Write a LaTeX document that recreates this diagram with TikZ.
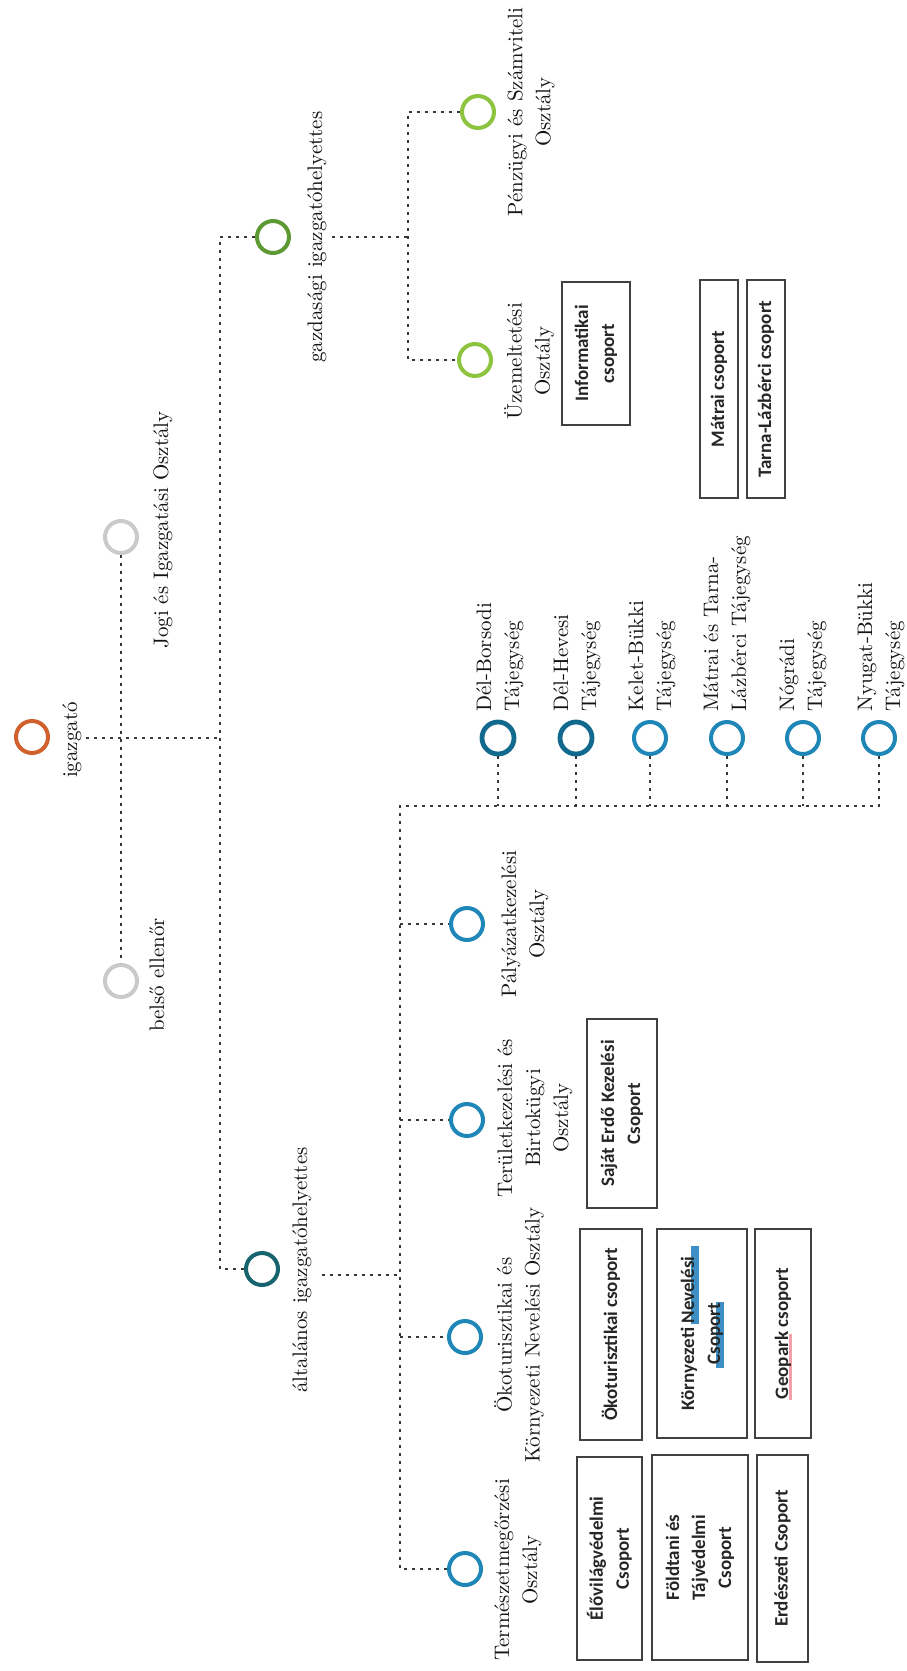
\documentclass[tikz,border=0pt]{standalone}
\usepackage{fontspec}
\newfontfamily\grpfont{Carlito}
\usepackage{tikz}
\definecolor{chiefred}{HTML}{D2602C}
\definecolor{staffgray}{HTML}{CACACA}
\definecolor{ecogreen}{HTML}{5E9A33}
\definecolor{leafgreen}{HTML}{8CC43F}
\definecolor{genteal}{HTML}{17646F}
\definecolor{deepblue}{HTML}{12698E}
\definecolor{unitblue}{HTML}{1F86B8}
\definecolor{markblue}{HTML}{3D8FC6}
\definecolor{markpink}{HTML}{EFA2AA}
\tikzset{
  orgcirc/.style={circle, draw=#1, line width=2pt, minimum size=16pt, inner sep=0pt},
  lbl/.style={rotate=90, align=center, text=black!92, inner sep=1pt,
    font=\fontsize{10.5}{14}\selectfont},
  lblup/.style={lbl, align=left, anchor=west},
  grp/.style={draw=black!75, line width=1.4pt, rotate=90, align=center, inner sep=1pt,
    text=black!85, font=\grpfont\bfseries\fontsize{9.5}{13}\selectfont},
  conn/.style={draw=black!78, line width=1.3pt, dash pattern=on 1.3pt off 2.7pt}
}

\begin{document}
\begin{tikzpicture}[x=0.5pt, y=-0.5pt]
          \fill[white] (0,0) rectangle (906,1671);
          \useasboundingbox (0,0) rectangle (906,1671);

          % top levels
          \node[orgcirc=chiefred] (igazgato) at (32,737) {};
          \node[lbl] (igazgatoL) at (72,740) {igazgató};
          \node[orgcirc=staffgray] (jogi) at (121,537) {};
          \node[lbl] (jogiL) at (163,530) {Jogi és Igazgatási Osztály};
          \node[orgcirc=staffgray] (belso) at (121,981) {};
          \node[lbl] (belsoL) at (157,975) {belső ellenőr};

          \node[orgcirc=ecogreen] (gazdasagi) at (273,237) {};
          \node[lbl] (gazdasagiL) at (317,237) {gazdasági igazgatóhelyettes};
          \node[orgcirc=genteal] (altalanos) at (262,1269) {};
          \node[lbl] (altalanosL) at (302,1270) {általános igazgatóhelyettes};

          % gazdasagi branch
          \node[orgcirc=leafgreen] (penzugyi) at (478,112) {};
          \node[lbl] (penzugyiL) at (531,112) {Pénzügyi és Számviteli\\Osztály};
          \node[orgcirc=leafgreen] (uzemeltetesi) at (475,360) {};
          \node[lbl] (uzemeltetesiL) at (529,361) {Üzemeltetési\\Osztály};

          \node[grp, minimum width=71.5pt, minimum height=34pt] (informatikai) at (596,353.5) {Informatikai\\csoport};
          \node[grp, minimum width=109pt, minimum height=19pt] (matrai) at (719,389) {Mátrai csoport};
          \node[grp, minimum width=109pt, minimum height=19pt] (tarna) at (766,389) {Tarna-Lázbérci csoport};

          % altalanos branch
          \node[orgcirc=unitblue] (palyazat) at (467,924) {};
          \node[lbl] (palyazatL) at (525,924) {Pályázatkezelési\\Osztály};
          \node[orgcirc=unitblue] (terulet) at (467,1120) {};
          \node[lbl] (teruletL) at (535,1118) {Területkezelési és\\Birtokügyi\\Osztály};
          \node[orgcirc=unitblue] (okotur) at (465,1337) {};
          \node[lbl] (okoturL) at (519,1335) {Ökoturisztikai és\\Környezeti Nevelési Osztály};
          \node[orgcirc=unitblue] (termeszet) at (465,1569) {};
          \node[lbl] (termeszetL) at (518,1570) {Természetmegőrzési\\Osztály};

          \node[orgcirc=deepblue, line width=2.4pt] (delborsod) at (498,738) {};
          \node[lblup] (delborsodL) at (500,714) {Dél-Borsodi\\Tájegység};
          \node[orgcirc=deepblue, line width=2.4pt] (delheves) at (576,738) {};
          \node[lblup] (delhevesL) at (577,714) {Dél-Hevesi\\Tájegység};
          \node[orgcirc=unitblue] (keletbukk) at (650,738) {};
          \node[lblup] (keletbukkL) at (652,714) {Kelet-Bükki\\Tájegység};
          \node[orgcirc=unitblue] (matratarna) at (727,738) {};
          \node[lblup] (matratarnaL) at (727,714) {Mátrai és Tarna-\\Lázbérci Tájegység};
          \node[orgcirc=unitblue] (nograd) at (803,738) {};
          \node[lblup] (nogradL) at (803,714) {Nógrádi\\Tájegység};
          \node[orgcirc=unitblue] (nyugatbukk) at (879,738) {};
          \node[lblup] (nyugatbukkL) at (881,714) {Nyugat-Bükki\\Tájegység};

          % groups
          \node[grp, minimum width=94.5pt, minimum height=35pt] (sajaterdo) at (622,1113.5) {Saját Erdő Kezelési\\Csoport};
          \node[grp, minimum width=105.5pt, minimum height=31pt] (okogrp) at (611,1334.5) {Ökoturisztikai csoport};
          \fill[markblue] (691,1246) rectangle (699,1324);
          \fill[markblue] (716,1302) rectangle (724,1368);
          \node[grp, minimum width=104.5pt, minimum height=45pt] (nevelesi) at (702,1333.5) {Környezeti Nevelési\\Csoport};
          \draw[markpink, line width=1.5pt] (790,1334) -- (790,1400);
          \node[grp, minimum width=104.5pt, minimum height=28pt] (geopark) at (783,1333.5) {Geopark csoport};
          \node[grp, minimum width=101.5pt, minimum height=32.5pt] (elovilag) at (609.5,1558.5) {Élővilágvédelmi\\Csoport};
          \node[grp, minimum width=102.5pt, minimum height=48pt] (foldtani) at (700,1557.5) {Földtani és\\Tájvédelmi\\Csoport};
          \node[grp, minimum width=103.5pt, minimum height=25.5pt] (erdeszeti) at (782.5,1558.5) {Erdészeti Csoport};

          % connectors
          \coordinate (rootOut) at (86,738);
          \coordinate (gazdKnee) at (220,237);
          \coordinate (altKnee) at (220,1269);
          \coordinate (gazdOut) at (332,237);
          \coordinate (gazdFork) at (408,237);
          \coordinate (altOut) at (322,1275);
          \coordinate (altFork) at (400,1275);
          \coordinate (tajRow) at (400,806);

          \draw[conn] (rootOut) -- (rootOut -| gazdKnee);
          \draw[conn] (jogi.south) -- (belso.north);
          \draw[conn] (gazdasagi.west) -- (gazdKnee) -- (altKnee) -- (altalanos.west);
          \draw[conn] (gazdOut) -- (gazdFork);
          \draw[conn] (penzugyi.west) -| (gazdFork) |- (uzemeltetesi.west);
          \draw[conn] (altOut) -- (altFork);
          \draw[conn] (nyugatbukk.south) |- (tajRow) |- (termeszet.west);
          \foreach \n in {palyazat,terulet,okotur}
            \draw[conn] (\n.west -| altFork) -- (\n.west);
          \foreach \n in {delborsod,delheves,keletbukk,matratarna,nograd}
            \draw[conn] (\n.south) -- (\n.south |- tajRow);
        \end{tikzpicture}
\end{document}
